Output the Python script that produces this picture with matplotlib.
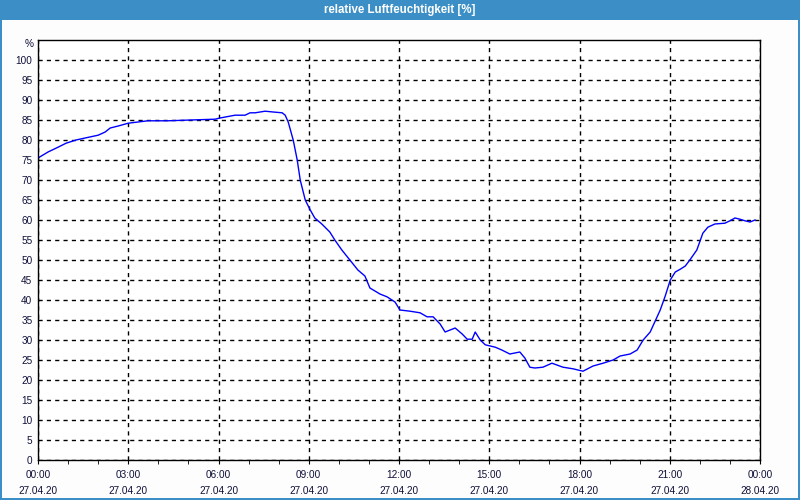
import matplotlib
matplotlib.use("Agg")
import matplotlib.pyplot as plt
from matplotlib.patches import Rectangle
import numpy as np

title = "relative Luftfeuchtigkeit [%]"
minutes = [0, 20, 40, 56, 76, 94, 120, 134, 144, 160, 180, 219, 259, 305, 353, 363,
           393, 413, 423, 433, 453, 469, 487, 493, 499, 509, 517, 523, 533, 543, 552,
           566, 582, 592, 606, 622, 638, 652, 662, 682, 696, 712, 722, 742, 762, 776,
           788, 802, 812, 832, 846, 856, 866, 872, 882, 892, 912, 925, 941, 961, 971,
           981, 991, 1007, 1025, 1047, 1067, 1087, 1107, 1127, 1147, 1161, 1181, 1195,
           1207, 1221, 1241, 1251, 1261, 1271, 1281, 1291, 1300, 1314, 1326, 1336,
           1350, 1370, 1380, 1390, 1400, 1410, 1420, 1430]
humidity = [75.5, 77.0, 78.2, 79.2, 80.0, 80.5, 81.2, 82.0, 83.0, 83.5, 84.2, 84.8,
            84.8, 85.0, 85.2, 85.5, 86.2, 86.2, 86.8, 86.8, 87.2, 87.0, 86.8, 86.2,
            84.5, 80.0, 75.0, 70.0, 65.0, 62.5, 60.5, 59.0, 57.0, 55.0, 52.5, 50.0,
            47.5, 46.0, 43.0, 41.5, 40.8, 39.5, 37.5, 37.2, 36.8, 35.8, 35.8, 34.0,
            32.0, 33.0, 31.5, 30.2, 30.2, 32.0, 30.0, 28.8, 28.2, 27.5, 26.5, 27.0,
            25.5, 23.2, 23.0, 23.2, 24.2, 23.2, 22.8, 22.2, 23.5, 24.2, 25.0, 26.0,
            26.5, 27.5, 30.0, 32.0, 37.5, 41.0, 45.0, 47.0, 47.7, 48.5, 50.0, 52.5,
            56.7, 58.2, 59.0, 59.2, 59.8, 60.5, 60.2, 59.8, 59.5, 60.0]
x_tick_hours = [0, 3, 6, 9, 12, 15, 18, 21, 24]
x_tick_labels = ["00:00\n27.04.20", "03:00\n27.04.20", "06:00\n27.04.20",
                 "09:00\n27.04.20", "12:00\n27.04.20", "15:00\n27.04.20",
                 "18:00\n27.04.20", "21:00\n27.04.20", "00:00\n28.04.20"]
y_ticks = list(range(0, 101, 5))

plt.rcParams["font.family"] = ["Liberation Sans", "DejaVu Sans"]

W, H = 800, 500
fig = plt.figure(figsize=(8, 5), dpi=100, facecolor="#fcfdfc")
blue = "#3c8fc6"
fig.patches.append(Rectangle((0, 1 - 20 / H), 1, 20 / H, transform=fig.transFigure,
                             facecolor=blue, edgecolor="none", zorder=0))
for r in [(0, 0, 2 / W, 1), (1 - 2 / W, 0, 2 / W, 1), (0, 0, 1, 2 / H)]:
    fig.patches.append(Rectangle(r[:2], r[2], r[3], transform=fig.transFigure,
                                 facecolor=blue, edgecolor="none", zorder=0))
fig.text(0.5, 1 - 10 / H, title, color="white", fontweight="bold", fontsize=8.3,
         ha="center", va="center")

ax = fig.add_axes([38 / W, 1 - 460 / H, 722 / W, 420 / H])
ax.set_facecolor("white")
hours = np.array(minutes) / 60.0
ax.plot(hours, humidity, color="#0000ff", lw=1.0)
ax.set_xlim(0, 24)
ax.set_ylim(0, 105)
ax.set_xticks(x_tick_hours)
ax.set_xticklabels(x_tick_labels, linespacing=1.75)
ax.set_xticks(range(0, 25), minor=True)
ax.set_yticks(y_ticks)
ax.set_yticklabels([str(v) for v in y_ticks])
txtc = "#10103a"
ax.tick_params(axis="x", which="both", length=3, direction="out", color="black",
               labelsize=7.2, labelcolor=txtc, pad=4)
ax.tick_params(axis="y", length=0, labelsize=7.2, labelcolor=txtc, pad=4)
ax.grid(True, which="major", color="black", linestyle=(0, (3, 3)), lw=1.0)
for s in ax.spines.values():
    s.set_color("black")
    s.set_linewidth(1.0)
ax.text(-0.006, 104, "%", transform=ax.get_yaxis_transform(), ha="right", va="center",
        fontsize=7.2, color=txtc)
fig.savefig("out.png", dpi=100, facecolor=fig.get_facecolor())
